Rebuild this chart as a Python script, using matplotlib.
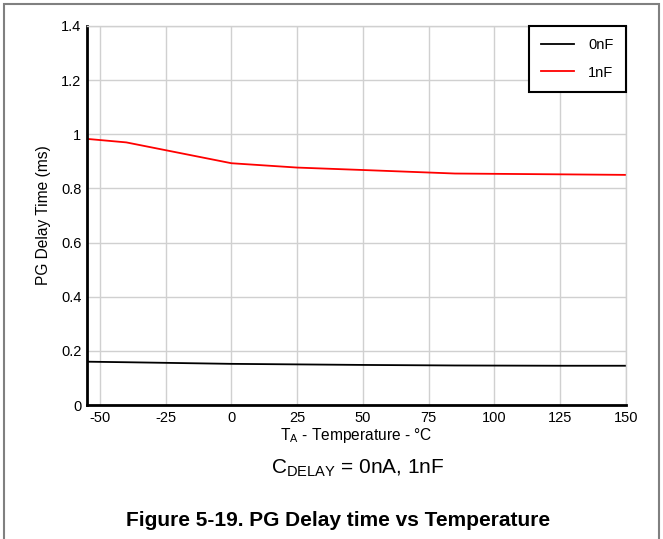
import numpy as np
import matplotlib.pyplot as plt
from matplotlib.patches import Rectangle

plt.rcParams['font.family'] = ['Liberation Sans', 'DejaVu Sans']
plt.rcParams['axes.unicode_minus'] = False

# data
temp = [-55, -40, 0, 25, 50, 85, 125, 150]
delay_0nf = [0.160, 0.158, 0.152, 0.150, 0.148, 0.146, 0.145, 0.145]
delay_1nf = [0.983, 0.970, 0.893, 0.877, 0.868, 0.855, 0.852, 0.850]
x_ticks = [-50, -25, 0, 25, 50, 75, 100, 125, 150]
y_ticks = [0, 0.2, 0.4, 0.6, 0.8, 1.0, 1.2, 1.4]
y_labels = ['0', '0.2', '0.4', '0.6', '0.8', '1', '1.2', '1.4']

fig = plt.figure(figsize=(6.63, 5.39), dpi=100)
ax = fig.add_axes([0.131, 0.2486, 0.813, 0.7032])

ax.plot(temp, delay_0nf, color='black', lw=1.3, label='0nF')
ax.plot(temp, delay_1nf, color='#ff0000', lw=1.3, label='1nF')

ax.set_xlim(-55, 150)
ax.set_ylim(0, 1.4)
ax.set_xticks(x_ticks)
ax.set_yticks(y_ticks)
ax.set_yticklabels(y_labels)
ax.tick_params(length=0, labelsize=10.5, pad=4)
ax.grid(True, color='#d0d0d0', lw=1)
ax.set_axisbelow(True)

for s in ['left', 'bottom']:
    ax.spines[s].set_linewidth(2)
    ax.spines[s].set_color('black')
for s in ['top', 'right']:
    ax.spines[s].set_linewidth(1)
    ax.spines[s].set_color('#d0d0d0')

ax.set_xlabel('T$_\\mathregular{A}$ - Temperature - °C', fontsize=11.2, labelpad=1)
ax.set_ylabel('PG Delay Time (ms)', fontsize=11.2, labelpad=7)

leg = ax.legend(loc='upper right', fontsize=10.5, fancybox=False, framealpha=1,
                edgecolor='black', borderaxespad=0, handlelength=2.2,
                handletextpad=1.0, borderpad=0.85, labelspacing=0.9)
leg.get_frame().set_linewidth(1.5)

fig.text(0.54, 0.132, 'C$_\\mathregular{DELAY}$ = 0nA, 1nF', ha='center', va='center', fontsize=15)
fig.text(0.51, 0.035, 'Figure 5-19. PG Delay time vs Temperature', ha='center', va='center',
         fontsize=15, fontweight='bold')

# outer gray frame
fig.patches.append(Rectangle((0.006, -0.05), 0.988, 1.043, transform=fig.transFigure,
                             fill=False, edgecolor='#808080', lw=1.5))

fig.savefig('out.png', dpi=100)
